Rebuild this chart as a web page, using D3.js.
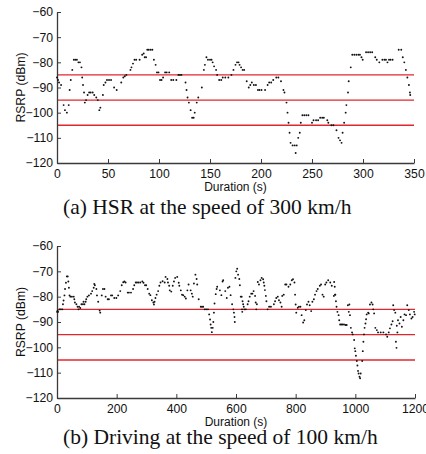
<!DOCTYPE html>
<html><head><meta charset="utf-8">
<script src="https://cdn.jsdelivr.net/npm/d3@7"></script>
<style>body{margin:0;background:#fff}svg{display:block}</style>
</head><body>
<svg id="c" width="426" height="454"></svg>
<script>
// ---- data ----
const yTicks = [-60,-70,-80,-90,-100,-110,-120];
const hsrXTicks = [0,50,100,150,200,250,300,350];
const driveXTicks = [0,200,400,600,800,1000,1200];
const thresholds = [-85,-95,-105];
const captions = ["(a) HSR at the speed of 300 km/h","(b) Driving at the speed of 100 km/h"];

const hsrT = [0,1,2,4,6.5,7.8,9.7,11.5,12.4,13.5,15,16.5,18,19.5,21,22.5,24,24.7,25.5,26.5,27.3,28.5,30,31.5,33,35,36.5,38.5,40,41.5,42.5,45,45.8,47.5,49,51,53,56,58.5,63,65,66.5,68,72,73,74.5,76,77.6,81,83.5,85,86,87.3,88.5,90,91.8,93.5,95,96.7,98,99.5,101,102.5,104,106,107.5,110,112,114,117,119,120.5,122,126,127,128,129.3,131,132.5,134,135,137,138.5,142,144,145,146.5,148,150,151.5,152.6,154,156,157,159,161,162.5,165,168,171,173,175,176.5,178,179,180.5,182,183.5,186,188,189.5,191,193,195,197,198.5,200.5,204,206.5,208,210,212,215,217,219.6,222,223,225,226,227,228,229,231,233,234,235,236.5,238,239,240.6,242.5,244.5,246.5,250,251.5,254,256,258,260,261.6,265,266,269,271,274,276,277.5,279,280,281.5,283,283.7,285.3,286,288,289.5,291.5,293.5,295.5,297,298.5,299.7,303,305,307,309,312,313.5,316,319,321,322.5,324,325.5,327,329,335,337.5,339,340.5,342,343.5,345,346,346.3];
const hsrV = [-86,-87,-88,-89,-97,-99,-100,-97,-91,-87,-83,-79,-79,-79,-80,-80,-82,-86,-89,-92,-96,-95,-93,-92,-92,-92,-93,-94,-95,-99,-98,-93,-89,-88,-87,-87,-87,-90,-91,-88,-86,-85.5,-85,-83,-82,-80.5,-79,-79,-79,-77,-76.5,-78,-78,-75,-75,-75,-75,-79,-81,-84,-84,-87,-87,-86,-84,-84,-84,-87,-87,-87,-85,-85,-85,-88,-91,-94,-96,-99,-102,-102,-100,-96,-94,-90,-83,-81,-78,-79,-79,-79,-80,-81.6,-83,-85,-87,-87,-86,-86,-86,-85,-83,-81,-80,-80,-81,-82,-83,-83,-87.5,-90,-89,-88,-89,-89,-91,-91,-91,-91,-89,-88,-88,-87,-86,-86,-87.5,-91,-92,-96,-100,-104,-108,-112,-113,-113,-116,-113,-110,-108,-104,-101,-101,-101,-101,-104,-103,-103,-103,-102,-102,-102,-103,-104,-105,-105,-107,-110,-111,-112,-108,-104,-100,-97,-92,-87.5,-82,-77,-77,-77,-77,-77,-78,-79,-76,-76,-76,-76,-78,-79,-80,-79,-79,-79,-80,-79,-79,-79,-75,-75,-78,-80,-83,-86,-89,-92,-93];

const driveT = [0,2,4,9,13,18,20,22,25,27,30,33,36,38,40,42,45,50,56,58,60,65,69,72,74,78,82,87,89,92,96,98,102,107,114,118,123,125,127,132,134,138,143,145,150,154,159,163,170,174,181,185,192,199,205,212,217,222,226,230,237,241,248,255,259,264,268,273,279,286,290,295,299,304,309,313,318,323,325,327,330,334,339,343,347,354,361,364,370,372,376,378,383,388,392,396,403,408,410,415,419,423,428,432,437,441,448,452,455,459,464,468,470,475,482,486,490,495,500,506,510,513,515,517,519,522,524,526,528,532,535,537,546,551,555,557,564,569,573,578,582,587,591,593,595,596,598,601,604,607,611,613,616,619,620,621,622,624,626,628,633,639,642,646,651,655,659,664,666,668,670,673,677,682,686,691,693,695,697,700,702,706,711,717,727,731,735,740,744,749,753,755,760,765,769,776,782,787,791,796,798,800,802,807,811,816,820,825,829,834,838,843,847,852,856,861,865,870,874,881,885,890,894,899,903,909,916,921,928,929,931,932,933,935,937,940,944,946,949,953,957,962,967,971,975,978,980,982,985,989,991,996,998,1000,1002,1005,1007,1009,1011,1014,1016,1018,1023,1025,1027,1029,1031,1034,1036,1038,1043,1045,1049,1054,1058,1060,1063,1067,1072,1076,1085,1094,1103,1107,1112,1116,1121,1125,1127,1130,1134,1136,1138,1139,1141,1143,1148,1152,1156,1161,1165,1170,1174,1179,1183,1188,1192,1197,1199];
const driveV = [-86,-85.5,-86,-85,-85,-85,-83,-81.5,-79.5,-77,-74.5,-72,-72,-74,-76.5,-79.5,-80,-80,-80,-81,-82.3,-83,-84,-85,-84,-84.5,-83,-83,-82,-83,-82,-81,-80,-79.5,-78.8,-77.8,-76.5,-75,-75.5,-77,-79.5,-82,-85.5,-86.3,-79.5,-77,-77,-80,-81,-81,-79.5,-79.5,-80.5,-80.5,-79.5,-77.8,-75.5,-74.3,-74,-74.4,-78.4,-78.4,-78.4,-77,-75.5,-74.4,-74.4,-74.4,-74.4,-74,-74.5,-75.5,-75.5,-77,-78.8,-79.4,-81.4,-82.3,-83.1,-82,-80.5,-79.2,-77.8,-75.7,-74.4,-73.9,-74.4,-72.2,-73,-74.4,-75.7,-77.5,-78,-75.7,-74,-72.6,-72.2,-74.5,-75.7,-77.5,-79.2,-79.4,-80,-80.7,-77.5,-75.2,-77.5,-78.8,-80,-74.8,-71.3,-73,-75.2,-81,-84,-84,-84,-85,-85,-85,-87,-89,-91,-92.3,-94,-92.3,-90,-86.3,-82.7,-79,-77,-76.1,-77.5,-79.4,-74,-73.5,-77.8,-80.5,-76.5,-76.1,-79.4,-83,-85,-86.3,-88,-90,-72.6,-70,-69,-71.3,-73,-75.5,-80,-80,-85,-86,-81.8,-83,-84,-85,-85,-83,-81.8,-80,-78.8,-78.8,-77.8,-79.7,-82.3,-85,-83,-74.2,-75.2,-73.5,-72.6,-73.1,-74.4,-75.7,-77.4,-79.7,-81.8,-85,-84,-84,-83,-81.8,-80.5,-80,-81.4,-82.3,-84,-79.7,-79.2,-75.2,-75.2,-76.1,-75.2,-73.5,-73.1,-74.4,-79.2,-83.1,-86.3,-84.4,-84,-84,-87.3,-90.2,-89.3,-85.3,-83.1,-82,-83.4,-85.7,-82,-81,-79.2,-77.8,-77,-75.7,-75.2,-79.2,-80,-75.2,-74.4,-73.5,-74.4,-75.7,-79.7,-74.2,-76.1,-79.2,-79.2,-81.8,-84,-86,-87.3,-89.3,-91,-91,-91,-91,-91.2,-91.2,-83.4,-86,-83.1,-87.3,-92.3,-94.1,-94.9,-97.1,-100.4,-101.5,-103.3,-105.4,-107.2,-109.3,-110.3,-111.6,-112.2,-110.3,-105.4,-101.5,-97.8,-94.9,-92.3,-90.6,-88.9,-87,-86.3,-86.6,-83.1,-82.3,-83.1,-85,-86.6,-92.3,-93.2,-94.1,-94.1,-94.1,-94.9,-95.8,-94.1,-92.5,-91,-89.7,-83.4,-85.3,-86.3,-97.8,-100.2,-91.5,-94.1,-89.3,-90.6,-88,-91.9,-89.3,-87,-87.3,-83.4,-85.3,-87,-88.6,-88,-86,-87];

// ---- drawing ----
const svg = d3.select("#c");
const sans = "'Liberation Sans', Arial, Helvetica, sans-serif";
const serif = "'Liberation Serif', 'Times New Roman', serif";

function panel(cfg) {
  const x = d3.scaleLinear().domain([cfg.xTicks[0], cfg.xTicks[cfg.xTicks.length-1]]).range([cfg.left, cfg.right]);
  const y = d3.scaleLinear().domain([-120, -60]).range([cfg.bottom, cfg.top]);
  const g = svg.append("g");

  // threshold lines
  g.selectAll("line.th").data(thresholds).join("line")
    .attr("x1", cfg.left).attr("x2", cfg.right)
    .attr("y1", d => y(d)).attr("y2", d => y(d))
    .attr("stroke", "#e2262d").attr("stroke-width", 1.4);

  // axes
  const xa = g.append("g").attr("transform", `translate(0,${cfg.bottom})`)
    .call(d3.axisBottom(x).tickValues(cfg.xTicks).tickSizeInner(-4).tickSizeOuter(0).tickPadding(6).tickFormat(d3.format("d")));
  const ya = g.append("g").attr("transform", `translate(${cfg.left},0)`)
    .call(d3.axisLeft(y).tickValues(yTicks).tickSizeInner(-4).tickSizeOuter(0).tickPadding(4).tickFormat(d => "\u2212" + Math.abs(d)));
  [xa, ya].forEach(a => {
    a.select(".domain").attr("stroke", "#3a3a3a").attr("stroke-width", 1.3);
    a.selectAll(".tick line").attr("stroke", "#3a3a3a").attr("stroke-width", 1);
    a.selectAll("text").attr("font-family", sans).attr("font-size", 12.2).attr("fill", "#111");
  });
  xa.selectAll("text").attr("dy", null).attr("y", 14.5);

  // points
  g.selectAll("circle.pt").data(cfg.t.map((t,i)=>[t,cfg.v[i]])).join("circle")
    .attr("cx", d => x(d[0])).attr("cy", d => y(d[1])).attr("r", 0.95).attr("fill", "#111");

  // labels
  g.append("text").attr("transform", `translate(${cfg.left-36},${(cfg.top+cfg.bottom)/2}) rotate(-90)`)
    .attr("text-anchor","middle").attr("dy","0.35em")
    .attr("font-family", sans).attr("font-size", 12.2).attr("fill","#111").text("RSRP (dBm)");
  g.append("text").attr("x",(cfg.left+cfg.right)/2).attr("y", cfg.bottom+28)
    .attr("text-anchor","middle").attr("font-family", sans).attr("font-size", 12).attr("fill","#111").text("Duration (s)");
  g.append("text").attr("x", 63).attr("y", cfg.capY)
    .attr("text-anchor","start").attr("font-family", serif).attr("font-size", 21.5).attr("fill","#111").text(cfg.caption);
}

panel({left:57, right:414, top:12, bottom:163, xTicks:hsrXTicks, t:hsrT, v:hsrV, caption:captions[0], capY:214});
panel({left:57, right:415, top:246, bottom:398, xTicks:driveXTicks, t:driveT, v:driveV, caption:captions[1], capY:444});
</script>
</body></html>
